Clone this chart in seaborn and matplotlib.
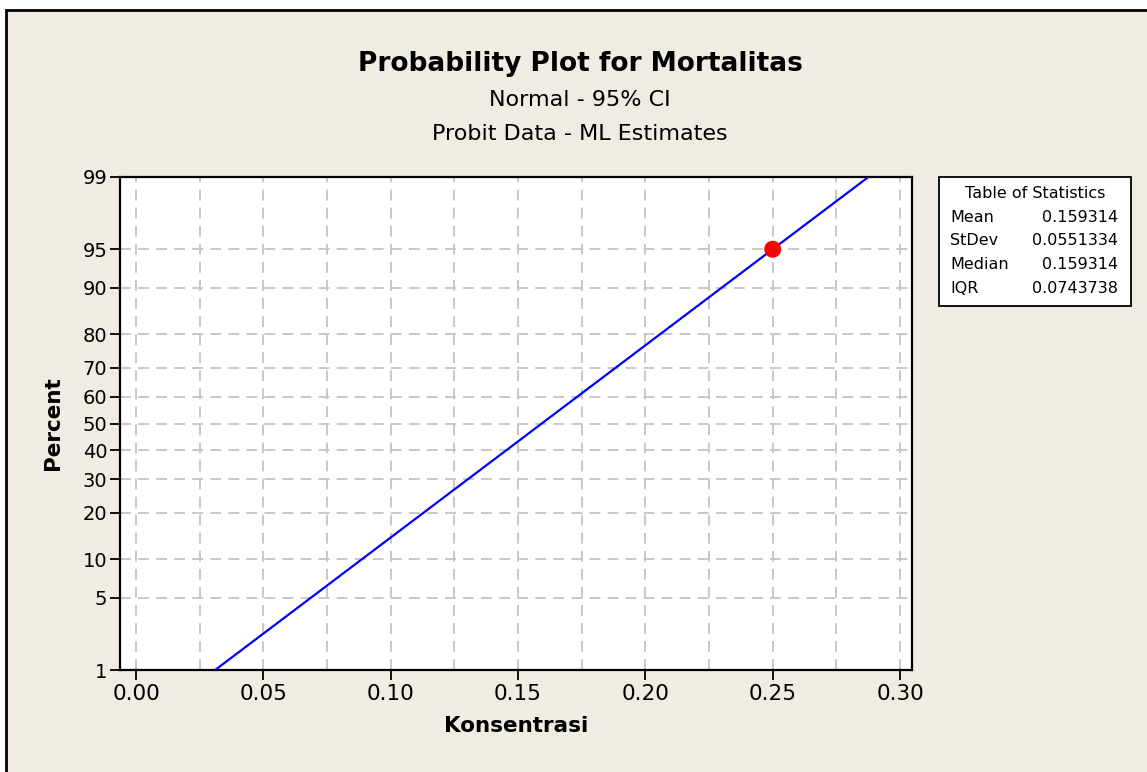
from statistics import NormalDist
import numpy as np
import pandas as pd
import matplotlib.pyplot as plt
from matplotlib.patches import Rectangle
import seaborn as sns

# values
stat_names = ["Mean", "StDev", "Median", "IQR"]
stat_values = ["0.159314", "0.0551334", "0.159314", "0.0743738"]
mean = 0.159314
stdev = 0.0551334
obs_konsentrasi = [0.25]
obs_percent = [95]
percent_ticks = [1, 5, 10, 20, 30, 40, 50, 60, 70, 80, 90, 95, 99]
x_ticks = [0.00, 0.05, 0.10, 0.15, 0.20, 0.25, 0.30]

nd = NormalDist()


def probit(p):
    if np.ndim(p) == 0:
        return nd.inv_cdf(p / 100.0)
    return np.array([nd.inv_cdf(v / 100.0) for v in p])


# fitted line spans 1% .. 99%
z_lo, z_hi = probit(1), probit(99)
fit = pd.DataFrame({"x": [mean + z_lo * stdev, mean + z_hi * stdev],
                    "z": [z_lo, z_hi]})
pts = pd.DataFrame({"x": obs_konsentrasi, "z": probit(obs_percent)})

sns.set_style("white")
plt.rcParams['font.family'] = ['DejaVu Sans']
plt.rcParams['text.color'] = 'black'
plt.rcParams['axes.labelcolor'] = 'black'
plt.rcParams['xtick.color'] = 'black'
plt.rcParams['ytick.color'] = 'black'

W, H = 1147, 772
fig = plt.figure(figsize=(W / 100, H / 100), dpi=100)
fig.patch.set_facecolor("white")
fig.patches.append(Rectangle((6 / W, -0.1), 1.2, 1 - 10 / H + 0.1,
                             transform=fig.transFigure, facecolor="#F0ECE3",
                             edgecolor="black", lw=2, zorder=-5))

ax = fig.add_axes([120 / W, 1 - 670 / H, (912 - 120) / W, (670 - 177) / H])
ax.set_facecolor("white")

sns.lineplot(data=fit, x="x", y="z", ax=ax, color="#0000FF", lw=1.6, zorder=3)
sns.scatterplot(data=pts, x="x", y="z", ax=ax, color="#FF0000", s=150,
                edgecolor="none", zorder=4)

ax.set_xlim(-0.0063, 0.3047)
ax.set_ylim(z_lo, z_hi)

# grid
for gx in np.arange(0, 0.3001, 0.025):
    ax.axvline(gx, color="#C4C4C4", ls=(0, (6, 4)), lw=1.3, zorder=1)
for p in percent_ticks[1:-1]:
    ax.axhline(probit(p), color="#C4C4C4", ls=(0, (6, 4)), lw=1.3, zorder=1)

ax.set_xticks(x_ticks)
ax.set_xticklabels([f"{v:.2f}" for v in x_ticks], fontsize=15.5)
ax.set_yticks(probit(percent_ticks))
ax.set_yticklabels([str(p) for p in percent_ticks], fontsize=14)
ax.tick_params(axis="both", direction="out", length=7, width=1.3, color="black",
               bottom=True, left=True)
ax.tick_params(axis="x", pad=3)
ax.tick_params(axis="y", pad=2)
for sp in ax.spines.values():
    sp.set_color("black")
    sp.set_linewidth(1.6)

ax.set_xlabel("Konsentrasi", fontsize=15.5, fontweight="bold", labelpad=9)
ax.set_ylabel("Percent", fontsize=15.5, fontweight="bold", labelpad=14)

fig.text(580 / W, 1 - 64 / H, "Probability Plot for Mortalitas", ha="center",
         va="center", fontsize=19, fontweight="bold")
fig.text(580 / W, 1 - 100 / H, "Normal - 95% CI", ha="center", va="center",
         fontsize=16)
fig.text(580 / W, 1 - 134 / H, "Probit Data - ML Estimates", ha="center",
         va="center", fontsize=16)

# table of statistics
fig.patches.append(Rectangle((939 / W, 1 - 306 / H), (1131 - 939) / W, (306 - 177) / H,
                             transform=fig.transFigure, facecolor="white",
                             edgecolor="black", lw=1.3))
fig.text(1035 / W, 1 - 193 / H, "Table of Statistics", ha="center", va="center",
         fontsize=11.5)
for i, (n, v) in enumerate(zip(stat_names, stat_values)):
    y = 1 - (217 + i * 23.7) / H
    fig.text(950 / W, y, n, ha="left", va="center", fontsize=11.5)
    fig.text(1118 / W, y, v, ha="right", va="center", fontsize=11.5)

fig.savefig("out.png", dpi=100)
